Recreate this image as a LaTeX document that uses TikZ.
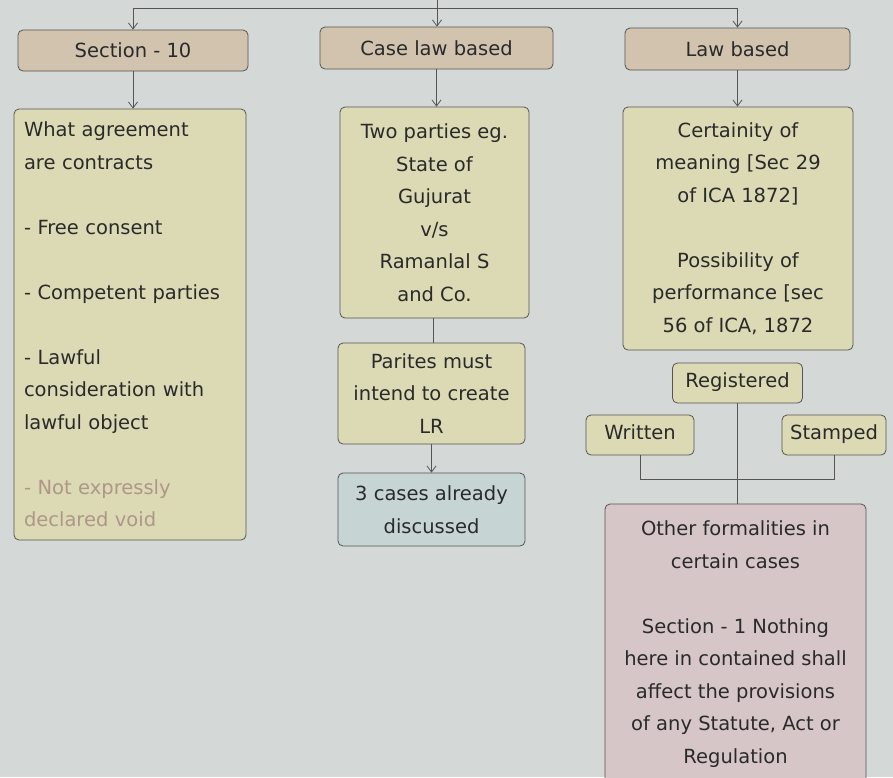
\documentclass[tikz,border=0pt]{standalone}
\usepackage{fontspec}
\setmainfont{DejaVu Sans}
\usetikzlibrary{arrows.meta}
\definecolor{pagebg}{HTML}{D4D8D7}
\definecolor{linec}{HTML}{555555}
\definecolor{textc}{HTML}{2A2A2A}
\definecolor{tanfill}{HTML}{D2C3AF}
\definecolor{olivefill}{HTML}{DCDAB4}
\definecolor{bluefill}{HTML}{C6D4D4}
\definecolor{pinkfill}{HTML}{D7C6C8}
\definecolor{fadedtext}{HTML}{B0958A}
\tikzset{
  box/.style={draw=linec, line width=0.8pt, rounded corners=5pt, inner sep=0pt,
    text=textc, font=\fontsize{19.5}{32.5}\selectfont, align=center},
  headbox/.style={box, fill=tanfill},
  notebox/.style={box, fill=olivefill},
  tagbox/.style={notebox, text height=14pt, text depth=4.5pt},
  casebox/.style={box, fill=bluefill},
  formbox/.style={box, fill=pinkfill},
  conn/.style={draw=linec, line width=0.8pt},
  arr/.style={conn, -{Straight Barb[length=6pt,width=9pt]}},
}
\begin{document}
\begin{tikzpicture}[x=1pt,y=-1pt]
  \useasboundingbox (0,0) rectangle (893,777);
  \fill[pagebg] (0,0) rectangle (893,777);

  % top row of headings
  \node[headbox, minimum width=230, minimum height=41] (sec)  at (133,50.5) {Section - 10};
  \node[headbox, minimum width=233, minimum height=42] (case) at (436.5,48) {Case law based};
  \node[headbox, minimum width=225, minimum height=42] (law)  at (737.5,49) {Law based};

  % left column
  \node[notebox, minimum width=232, minimum height=431, text width=212, align=left] (what) at (130,324.5)
    {What agreement\\are contracts\\[32.5pt]- Free consent\\[32.5pt]- Competent parties\\[32.5pt]- Lawful\\consideration with\\lawful object\\[32.5pt]\textcolor{fadedtext}{- Not expressly}\\\textcolor{fadedtext}{declared void}};

  % middle column
  \node[notebox, minimum width=189, minimum height=211] (two) at (434.5,212.5)
    {Two parties eg.\\State of\\Gujurat\\v/s\\Ramanlal S\\and Co.};
  \node[notebox, minimum width=187, minimum height=101] (intend) at (431.5,393.5)
    {Parites must\\intend to create\\LR};
  \node[casebox, minimum width=187, minimum height=73] (cases) at (431.5,509.5)
    {3 cases already\\discussed};

  % right column
  \node[notebox, minimum width=230, minimum height=243] (cert) at (738,228.5)
    {Certainity of\\meaning [Sec 29\\of ICA 1872]\\[32.5pt]Possibility of\\performance [sec\\56 of ICA, 1872};
  \node[tagbox, minimum width=130, minimum height=40] (reg) at (737.5,383) {Registered};
  \node[tagbox, minimum width=108, minimum height=40] (written) at (640,435) {Written};
  \node[tagbox, minimum width=104, minimum height=40] (stamped) at (834,435) {Stamped};
  \node[formbox, minimum width=261, minimum height=280] (other) at (735.5,644)
    {Other formalities in\\certain cases\\[32.5pt]Section - 1 Nothing\\here in contained shall\\affect the provisions\\of any Statute, Act or\\Regulation};

  % connectors
  \coordinate (top) at (437,0);
  \coordinate (hub) at (437,8);
  \draw[arr] (top) -- (top |- case.north);
  \draw[arr] (hub) -| (sec.north);
  \draw[arr] (hub) -| (law.north);
  \draw[arr] (sec.south) -- (sec.south |- what.north);
  \draw[arr] (case.south) -- (case.south |- two.north);
  \draw[arr] (law.south) -- (law.south |- cert.north);
  \draw[conn] (two.south -| 433,0) -- (433,0 |- intend.north);
  \draw[arr] (intend.south) -- (intend.south |- cases.north);
  \draw[conn] (reg.south) -- (reg.south |- other.north);
  \draw[conn] (written.south) -- ++(0,24) -| (stamped.south);
\end{tikzpicture}
\end{document}
